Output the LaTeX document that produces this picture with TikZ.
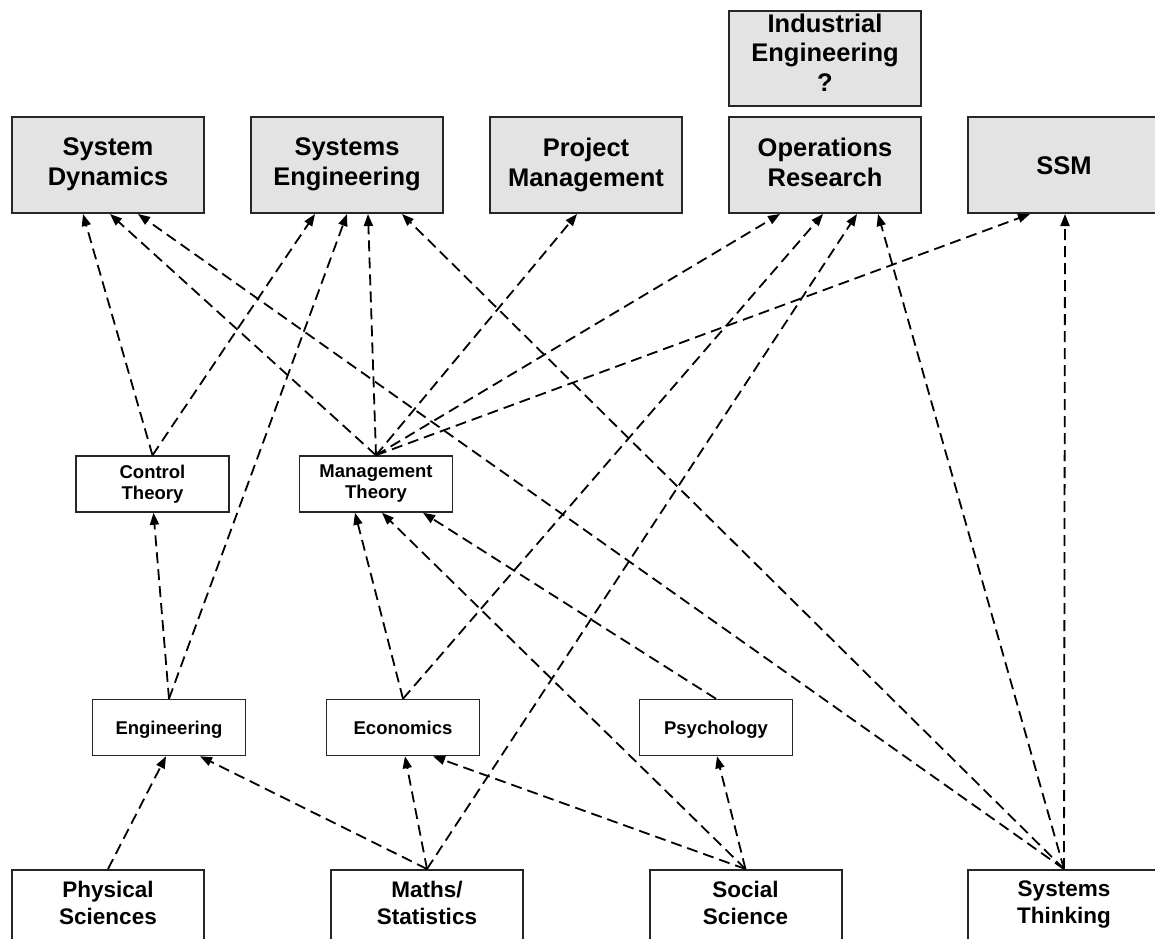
\documentclass[tikz,border=0pt]{standalone}
\usepackage{fontspec}
\setmainfont{Liberation Sans}
\usetikzlibrary{arrows.meta}

% balanced strut so that capitals sit in the middle of the box
\newcommand{\capstrut}{\rule[-0.23em]{0pt}{1.18em}}

\begin{document}
\begin{tikzpicture}[x=1pt, y=-1pt, >={Triangle[length=12pt,width=9pt]},
  field/.style={draw=black!85, line width=2pt, fill=gray!22, minimum width=192pt,
    minimum height=96pt, inner sep=0pt, align=center,
    execute at begin node=\capstrut, execute at end node=\capstrut,
    font=\fontsize{25.5}{30}\selectfont\bfseries},
  root/.style={field, fill=white, minimum height=70pt,
    font=\fontsize{22.5}{27}\selectfont\bfseries},
  theory/.style={draw=black!85, line width=1.5pt, fill=white, minimum width=153pt,
    minimum height=56pt, inner sep=0pt, align=center,
    execute at begin node=\capstrut, execute at end node=\capstrut,
    font=\fontsize{18.5}{21}\selectfont\bfseries},
  link/.style={->, line width=1.8pt, dash pattern=on 11pt off 6pt}]

\useasboundingbox (0,0) rectangle (1155,938);
\clip (0,0) rectangle (1155,938);

% --- Top row: systems approaches ---
\node[field] (sd) at (108,165) {System\\Dynamics};
\node[field] (se) at (347,165) {Systems\\Engineering};
\node[field] (pm) at (586,165) {Project\\Management};
\node[field] (or) at (825,165) {Operations\\Research};
\node[field, minimum height=95pt, font=\fontsize{25.5}{29.5}\selectfont\bfseries,
  execute at begin node={\rule{0pt}{0.95em}},
  execute at end node={\rule[-0.47em]{0pt}{0.5em}}] (ie) at (825,58.5)
  {Industrial\\Engineering\\?};
\node[field] (ssm) at (1064,165) {SSM};

% --- Theories ---
\node[theory] (ct) at (152.5,484) {Control\\Theory};
\node[theory] (mt) at (376,484) {Management\\Theory};

% --- Applied disciplines ---
\node[theory] (eng) at (169,727.5) {Engineering};
\node[theory] (econ) at (403,727.5) {Economics};
\node[theory] (psy) at (716,727.5) {Psychology};

% --- Roots ---
\node[root] (phys) at (108,905) {Physical\\Sciences};
\node[root] (maths) at (427,905) {Maths/\\Statistics};
\node[root] (soc) at (745.5,905) {Social\\Science};
\node[root] (st) at (1064,905) {Systems\\Thinking};

% Control theory and management theory feed the approaches
\draw[link] (ct.north) -- ([xshift=-25pt]sd.south);
\draw[link] (ct.north) -- ([xshift=-32pt]se.south);
\draw[link] (mt.north) -- ([xshift=2pt]sd.south);
\draw[link] (mt.north) -- ([xshift=21pt]se.south);
\draw[link] (mt.north) -- ([xshift=-9pt]pm.south);
\draw[link] (mt.north) -- ([xshift=-45pt]or.south);
\draw[link] (mt.north) -- ([xshift=-34pt]ssm.south);

% Systems thinking
\draw[link] (st.north) -- ([xshift=30pt]sd.south);
\draw[link] (st.north) -- ([xshift=55pt]se.south);
\draw[link] (st.north) -- ([xshift=53pt]or.south);
\draw[link] (st.north) -- ([xshift=1pt]ssm.south);

% Disciplines upwards
\draw[link] (eng.north) -- ([xshift=1pt]ct.south);
\draw[link] (eng.north) -- (se.south);
\draw[link] (econ.north) -- ([xshift=-21pt]mt.south);
\draw[link] (econ.north) -- ([xshift=-2pt]or.south);
\draw[link] (psy.north) -- ([xshift=47pt]mt.south);

% Roots upwards
\draw[link] (phys.north) -- ([xshift=-3pt]eng.south);
\draw[link] (maths.north) -- ([xshift=31pt]eng.south);
\draw[link] (maths.north) -- ([xshift=2pt]econ.south);
\draw[link] (maths.north) -- ([xshift=32pt]or.south);
\draw[link] (soc.north) -- ([xshift=6pt]mt.south);
\draw[link] (soc.north) -- ([xshift=30pt]econ.south);
\draw[link] (soc.north) -- ([xshift=1pt]psy.south);

\end{tikzpicture}
\end{document}
